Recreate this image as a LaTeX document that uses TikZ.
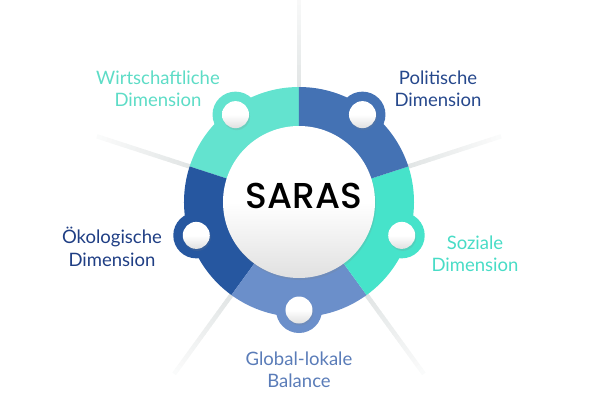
\documentclass[tikz,border=0pt]{standalone}
\usepackage{fontspec}
\setmainfont{Lato}
\IfFontExistsTF{Poppins Medium}
  {\newfontfamily\sarasfont{Poppins Medium}}
  {\newfontfamily\sarasfont{Poppins}[UprightFont=*-Medium]}
\usetikzlibrary{shadows}

\definecolor{tealW}{HTML}{63E3CF}
\definecolor{blueP}{HTML}{4472B4}
\definecolor{blueO}{HTML}{2657A0}
\definecolor{blueG}{HTML}{6B8FCA}
\definecolor{tealS}{HTML}{46E3CA}
\definecolor{txtW}{HTML}{5DDCC6}
\definecolor{txtP}{HTML}{26488C}
\definecolor{txtO}{HTML}{1F3E84}
\definecolor{txtS}{HTML}{48DCC6}
\definecolor{txtG}{HTML}{5A7CB8}
\definecolor{raygray}{HTML}{8C9A9A}

\tikzset{
  dimlabel/.style={font=\fontsize{18.5}{22.5}\selectfont, align=center},
  whiteball/.style={top color=white, bottom color=black!12, middle color=white,
    drop shadow={opacity=0.18, shadow xshift=1pt, shadow yshift=-2pt}},
  ray/.style={line width=4.5pt, line cap=butt},
}

\begin{document}
\begin{tikzpicture}[x=1pt,y=1pt]
	\useasboundingbox (-299,-198) rectangle (301,202);
	% rays behind the ring, fading outwards
	\foreach \a in {90,162,234,306,18}
		\foreach \i in {0,...,19} {
			\pgfmathsetmacro\shadepct{26-\i*1.15}
			\draw[ray, raygray!\shadepct] (\a:112+5*\i) -- (\a:117.5+5*\i);
		}

	% ring segments and knobs
	\foreach \a/\c in {90/tealW,162/blueO,234/blueG,306/tealS,18/blueP} {
		\fill[\c] (0,0) -- (\a:115) arc[start angle=\a, delta angle=72, radius=115pt] -- cycle;
		\fill[\c] (\a+36:108) circle[radius=23pt];
	}

	% centre and knob dots
	\shade[whiteball] (0,0) circle[radius=76pt];
	\foreach \a in {126,198,270,342,54}
		\shade[whiteball] (\a:108) circle[radius=13.5pt];

	\node (saras) at (5,6.5) {\sarasfont\fontsize{36}{36}\selectfont SARAS};

	\node[dimlabel, text=txtW] (wirt) at (-141,113) {Wirtschaftliche\\Dimension};
	\node[dimlabel, text=txtP] (pol) at (139,113) {Politische\\Dimension};
	\node[dimlabel, text=txtO] (oeko) at (-187,-45) {Ökologische\\Dimension};
	\node[dimlabel, text=txtS] (soz) at (176,-52) {Soziale\\Dimension};
	\node[dimlabel, text=txtG] (glob) at (0,-168) {Global-lokale\\Balance};
\end{tikzpicture}
\end{document}
